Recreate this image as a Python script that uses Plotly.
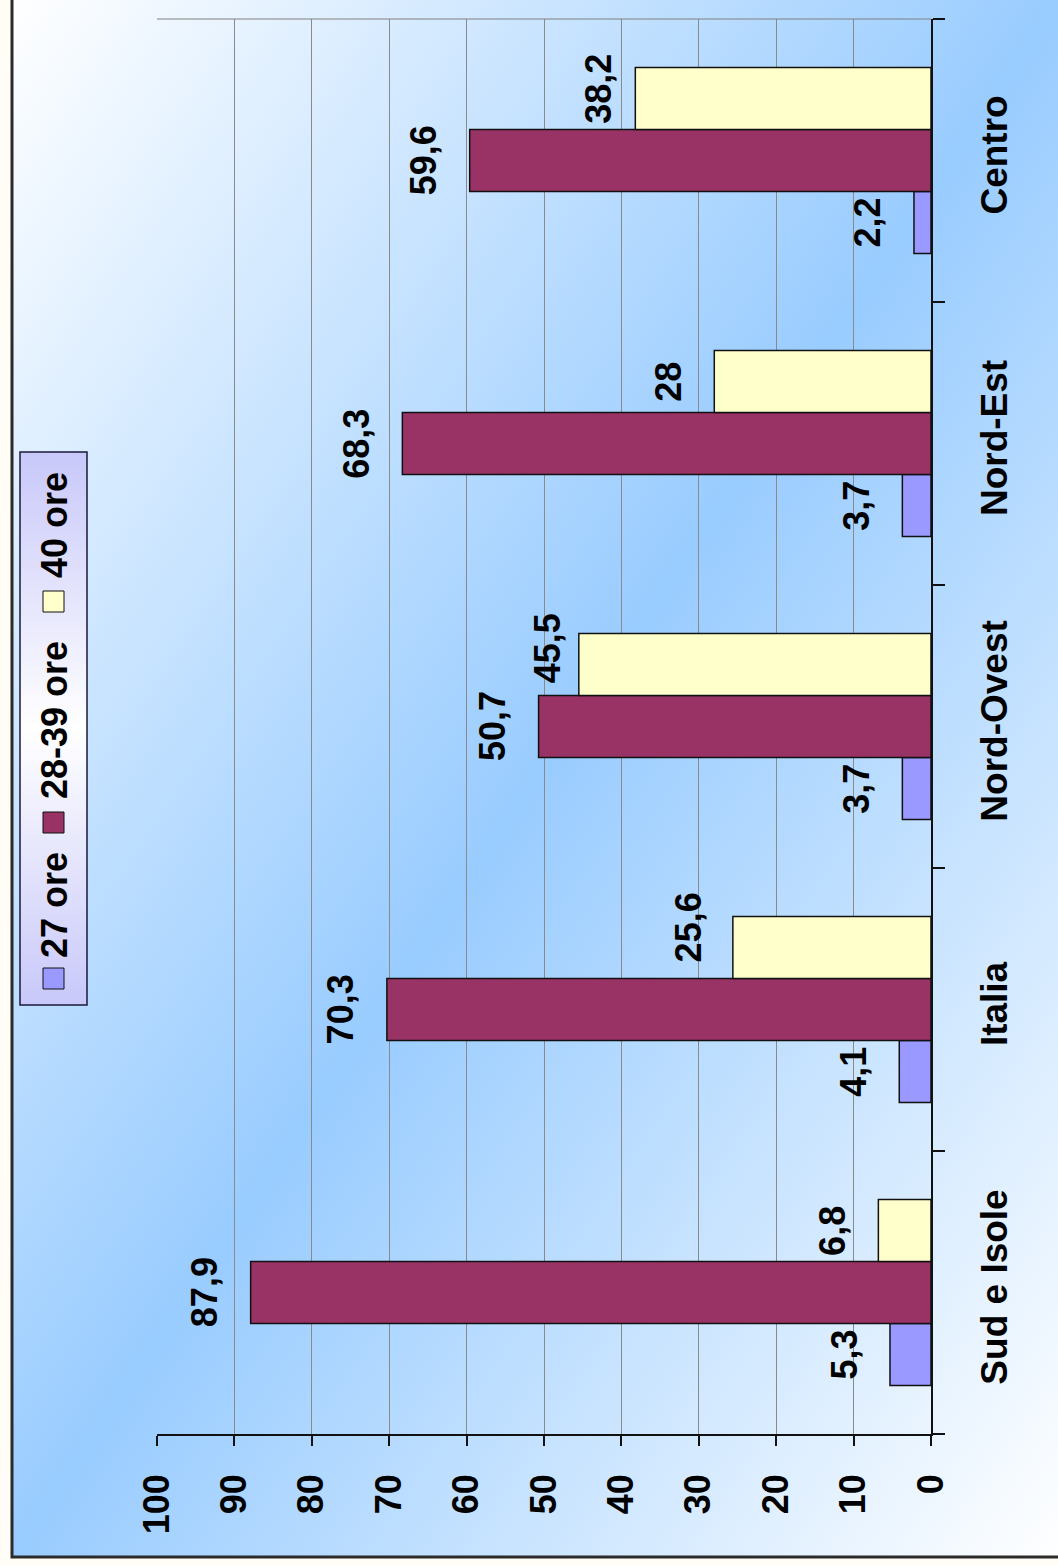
import base64
import plotly.graph_objects as go

# Regions (bottom to top) and weekly-hours classes
categorie = ["Sud e Isole", "Italia", "Nord-Ovest", "Nord-Est", "Centro"]
serie = ["27 ore", "28-39 ore", "40 ore"]
ore_27 = [5.3, 4.1, 3.7, 3.7, 2.2]
ore_28_39 = [87.9, 70.3, 50.7, 68.3, 59.6]
ore_40 = [6.8, 25.6, 45.5, 28.0, 38.2]
tick_valori = [0, 10, 20, 30, 40, 50, 60, 70, 80, 90, 100]

valori = [ore_27, ore_28_39, ore_40]
colori = ["#9999FF", "#993366", "#FFFFCC"]

W, H = 1058, 1565
L, R, T, B = 157, 127, 19, 131
PW, PH = W - L - R, H - T - B
BARGAP = 0.343
FONT = "Liberation Sans, Arial, sans-serif"
WEIGHT = "bold"

# pixel nudges for a few crowded value labels (series, region) -> (dx, dy)
spostamenti = {
    ("40 ore", "Nord-Ovest"): (15, 16),
    ("40 ore", "Italia"): (2, 20),
    ("40 ore", "Centro"): (9, 10),
}


def px_x(px):
    return (px - L) / PW


def px_y(py):
    return (H - B - py) / PH


def fmt(v):
    return f"{v:g}".replace(".", ",")


def svg_uri(svg):
    return "data:image/svg+xml;base64," + base64.b64encode(svg.encode()).decode()


sfondo = svg_uri(
    "<svg xmlns='http://www.w3.org/2000/svg' width='1050' height='1560' "
    "preserveAspectRatio='none' viewBox='0 0 1050 1560'>"
    "<defs><linearGradient id='g' x1='0' y1='0' x2='1' y2='1'>"
    "<stop offset='0' stop-color='#ffffff'/>"
    "<stop offset='0.5' stop-color='#99ccff'/>"
    "<stop offset='1' stop-color='#ffffff'/>"
    "</linearGradient></defs>"
    "<rect width='1050' height='1560' fill='url(#g)'/></svg>"
)
sfondo_legenda = svg_uri(
    "<svg xmlns='http://www.w3.org/2000/svg' width='70' height='560' "
    "preserveAspectRatio='none' viewBox='0 0 70 560'>"
    "<defs><linearGradient id='l' x1='0' y1='0' x2='0' y2='1'>"
    "<stop offset='0' stop-color='#c8c8fa'/>"
    "<stop offset='0.5' stop-color='#ffffff'/>"
    "<stop offset='1' stop-color='#c8c8fa'/>"
    "</linearGradient></defs>"
    "<rect width='70' height='560' fill='url(#l)'/></svg>"
)

fig = go.Figure()
for nome, vals, col in zip(serie, valori, colori):
    fig.add_trace(go.Bar(
        y=categorie, x=vals, name=nome, orientation="h",
        marker=dict(color=col, line=dict(color="#111111", width=1.5)),
        showlegend=False, hoverinfo="x+y",
    ))

# value labels beyond the end of each bar
bar_px = PH / len(categorie) * (1 - BARGAP) / len(serie)
annotazioni = []
for i, (nome, vals) in enumerate(zip(serie, valori)):
    for cat, v in zip(categorie, vals):
        dx, dy = spostamenti.get((nome, cat), (0, 0))
        annotazioni.append(dict(
            x=v, y=cat, xref="x", yref="y", text=fmt(v), showarrow=False,
            textangle=-90, xanchor="center", yanchor="middle",
            xshift=-46 + dx, yshift=(i - 1) * bar_px + dy,
            font=dict(family=FONT, size=36, color="black", weight=WEIGHT),
        ))

# legend drawn vertically along the left edge
leg_box = (20, 452, 87, 1005)
leg_items = [
    (serie[0], colori[0], 978, 905),
    (serie[1], colori[1], 822, 720),
    (serie[2], colori[2], 601, 525),
]
forme = [
    dict(type="rect", xref="paper", yref="paper",
         x0=px_x(12), x1=px_x(1064), y0=px_y(1557), y1=px_y(-4),
         line=dict(color="#2b2b2b", width=3), fillcolor="rgba(0,0,0,0)", layer="above"),
    dict(type="line", xref="paper", yref="paper", x0=0, x1=1, y0=1, y1=1,
         line=dict(color="#808080", width=1)),
    dict(type="rect", xref="paper", yref="paper",
         x0=px_x(leg_box[0]), x1=px_x(leg_box[2]),
         y0=px_y(leg_box[3]), y1=px_y(leg_box[1]),
         line=dict(color="#1a1a3a", width=1.5), fillcolor="rgba(0,0,0,0)"),
]
for nome, col, sq_y, txt_y in leg_items:
    forme.append(dict(type="rect", xref="paper", yref="paper",
                      x0=px_x(43), x1=px_x(64), y0=px_y(sq_y + 11), y1=px_y(sq_y - 10),
                      line=dict(color="#111111", width=1), fillcolor=col))
    annotazioni.append(dict(
        x=px_x(54), y=px_y(txt_y), xref="paper", yref="paper", text=nome,
        showarrow=False, textangle=-90, xanchor="center", yanchor="middle",
        font=dict(family=FONT, size=36, color="black", weight=WEIGHT),
    ))

fig.update_layout(
    width=W, height=H, autosize=False,
    margin=dict(l=L, r=R, t=T, b=B, pad=0),
    paper_bgcolor="#fffdf6", plot_bgcolor="rgba(0,0,0,0)",
    barmode="group", bargap=BARGAP, bargroupgap=0,
    font=dict(family=FONT, color="black"),
    shapes=forme, annotations=annotazioni,
    images=[
        dict(source=sfondo, xref="paper", yref="paper",
             x=px_x(12), y=px_y(-4), sizex=(1064 - 12) / PW, sizey=(1557 + 4) / PH,
             xanchor="left", yanchor="top", sizing="stretch", layer="below"),
        dict(source=sfondo_legenda, xref="paper", yref="paper",
             x=px_x(leg_box[0]), y=px_y(leg_box[1]),
             sizex=(leg_box[2] - leg_box[0]) / PW, sizey=(leg_box[3] - leg_box[1]) / PH,
             xanchor="left", yanchor="top", sizing="stretch", layer="below"),
    ],
    xaxis=dict(
        range=[100, 0], tickvals=tick_valori, ticktext=[str(t) for t in tick_valori],
        showgrid=True, gridcolor="#8a8a8a", gridwidth=1, zeroline=False,
        showline=True, linecolor="#111111", linewidth=1.5,
        ticks="outside", ticklen=10, tickwidth=1.5, tickcolor="#111111",
        tickangle=-90, tickfont=dict(family=FONT, size=36, color="black", weight=WEIGHT),
        ticklabelstandoff=14,
    ),
    yaxis=dict(
        type="category", categoryorder="array", categoryarray=categorie,
        side="right", showgrid=False, zeroline=False,
        showline=True, linecolor="#111111", linewidth=1.5,
        ticks="outside", tickson="boundaries", ticklen=12, tickwidth=1.5,
        tickcolor="#111111", tickangle=-90,
        tickfont=dict(family=FONT, size=37, color="black", weight=WEIGHT),
        ticklabelstandoff=30,
    ),
)

fig.write_html("out.html")
